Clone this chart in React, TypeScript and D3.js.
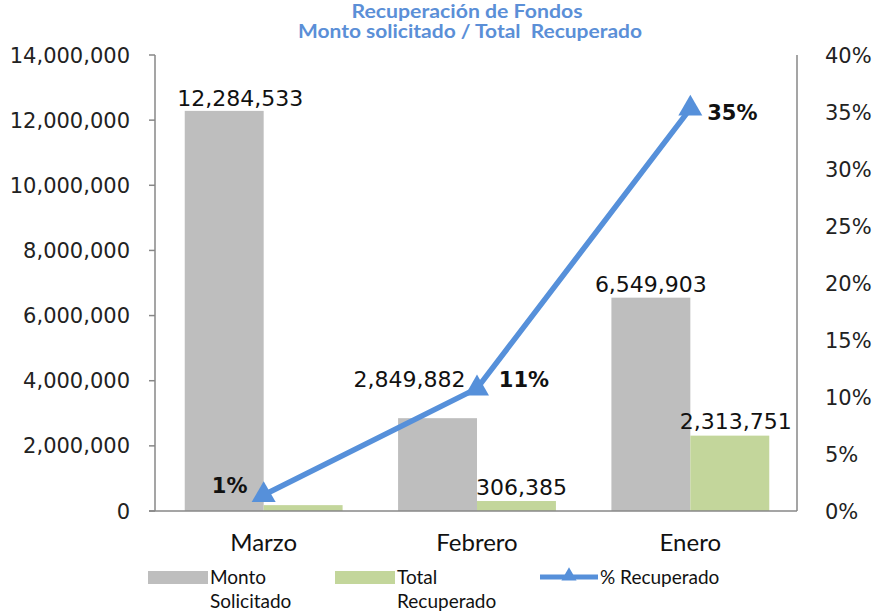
import React from 'react';
import * as d3 from 'd3';

const meses = ['Marzo', 'Febrero', 'Enero'];
const montoSolicitado = [12284533, 2849882, 6549903];
const totalRecuperado = [180000, 306385, 2313751];
const pctRecuperado = [0.014, 0.1075, 0.353];
const pctEtiquetas = ['1%', '11%', '35%'];
const montoTicks = [0, 2000000, 4000000, 6000000, 8000000, 10000000, 12000000, 14000000];
const pctTicks = [0, 0.05, 0.1, 0.15, 0.2, 0.25, 0.3, 0.35, 0.4];

const W = 873;
const H = 612;
const left = 155;
const right = 797;
const top = 55;
const bottom = 511;

const GRIS = '#BEBEBE';
const VERDE = '#C3D69B';
const AZUL = '#5690DA';
const EJE = '#878787';
const numFont = '"DejaVu Sans", Verdana, sans-serif';
const txtFont = 'Lato, "Open Sans", sans-serif';

const App = () => {
  const x = d3.scaleBand().domain(meses).range([left + 2, right]).paddingInner(0.26).paddingOuter(0.13);
  const y = d3.scaleLinear().domain([0, 14000000]).range([bottom, top]);
  const y2 = d3.scaleLinear().domain([0, 0.4]).range([bottom, top]);
  const fmt = d3.format(',d');
  const bw = x.bandwidth() / 2;

  const cx = (m) => (x(m) as number) + bw;
  const line = d3.line<number>()
    .x((_, i) => cx(meses[i]))
    .y(d => y2(d));
  const tri = d3.symbol().type(d3.symbolTriangle).size(250)();

  // desplazamientos de etiquetas respecto al dato
  const montoOff = [[16, -5], [-28, -31], [0, -6]];
  const recupOff = [[0, -6], [5, -6], [6, -7]];
  const pctOff = [[-34, -2], [47, -1], [42, 11]];

  return (
    <svg width={W} height={H} style={{ position: 'absolute', left: 0, top: 0, background: '#fff' }}>
      {/* título */}
      <text x={467} y={18} textAnchor="middle" fontFamily={txtFont} fontWeight="bold" fontSize={18} fill="#5B8FD7"
        textLength={231} lengthAdjust="spacingAndGlyphs">
        Recuperación de Fondos
      </text>
      <text x={470} y={38} textAnchor="middle" fontFamily={txtFont} fontWeight="bold" fontSize={18} fill="#5B8FD7"
        textLength={344} lengthAdjust="spacingAndGlyphs" style={{ whiteSpace: 'pre' }}>
        Monto solicitado / Total  Recuperado
      </text>

      {/* barras */}
      {meses.map((m, i) => (
        <g key={m}>
          <rect x={x(m)} y={y(montoSolicitado[i])} width={bw} height={bottom - y(montoSolicitado[i])} fill={GRIS} />
          <rect x={(x(m) as number) + bw} y={y(totalRecuperado[i])} width={bw} height={bottom - y(totalRecuperado[i])} fill={VERDE} />
        </g>
      ))}

      {/* ejes */}
      <line x1={left} x2={left} y1={top} y2={bottom} stroke={EJE} strokeWidth={1.5} />
      <line x1={right} x2={right} y1={top} y2={bottom} stroke={EJE} strokeWidth={1.5} />
      <line x1={left - 6} x2={right} y1={bottom} y2={bottom} stroke={EJE} strokeWidth={1.5} />
      {montoTicks.map(t => (
        <g key={t}>
          <line x1={left - 6} x2={left} y1={y(t)} y2={y(t)} stroke={EJE} strokeWidth={1.5} />
          <text x={130} y={y(t)} dy="0.36em" textAnchor="end" fontFamily={numFont} fontSize={21} fill="#222">
            {fmt(t)}
          </text>
        </g>
      ))}
      {pctTicks.map(t => (
        <text key={t} x={825} y={y2(t)} dy="0.36em" fontFamily={numFont} fontSize={21} fill="#222">
          {Math.round(t * 100) + '%'}
        </text>
      ))}
      {meses.map(m => (
        <text key={m} x={cx(m)} y={551} textAnchor="middle" fontFamily={txtFont} fontSize={24} fill="#111">
          {m}
        </text>
      ))}

      {/* línea de % recuperado */}
      <path d={line(pctRecuperado) || ''} fill="none" stroke={AZUL} strokeWidth={5.5} />
      {pctRecuperado.map((p, i) => (
        <path key={i} d={tri || ''} transform={`translate(${cx(meses[i])},${y2(p)})`} fill={AZUL} />
      ))}

      {/* etiquetas de datos */}
      {meses.map((m, i) => (
        <g key={'lab' + m}>
          <text
            x={(x(m) as number) + bw / 2 + montoOff[i][0]}
            y={y(montoSolicitado[i]) + montoOff[i][1]}
            textAnchor="middle" fontFamily={numFont} fontSize={22} fill="#111"
          >
            {fmt(montoSolicitado[i])}
          </text>
          {i > 0 && (
            <text
              x={(x(m) as number) + bw * 1.5 + recupOff[i][0]}
              y={y(totalRecuperado[i]) + recupOff[i][1]}
              textAnchor="middle" fontFamily={numFont} fontSize={22} fill="#111"
            >
              {fmt(totalRecuperado[i])}
            </text>
          )}
          <text
            x={cx(m) + pctOff[i][0]}
            y={y2(pctRecuperado[i]) + pctOff[i][1]}
            textAnchor="middle" fontFamily={numFont} fontWeight="bold" fontSize={21} fill="#111"
          >
            {pctEtiquetas[i]}
          </text>
        </g>
      ))}

      {/* leyenda */}
      <rect x={148} y={571} width={60} height={13} fill={GRIS} />
      <text x={210} y={584} fontFamily={txtFont} fontSize={19} fill="#111">Monto</text>
      <text x={210} y={608} fontFamily={txtFont} fontSize={19} fill="#111">Solicitado</text>
      <rect x={335} y={571} width={60} height={13} fill={VERDE} />
      <text x={397} y={584} fontFamily={txtFont} fontSize={19} fill="#111">Total</text>
      <text x={397} y={608} fontFamily={txtFont} fontSize={19} fill="#111">Recuperado</text>
      <line x1={540} x2={598} y1={577} y2={577} stroke={AZUL} strokeWidth={5} />
      <path d={d3.symbol().type(d3.symbolTriangle).size(100)() || ''} transform="translate(569,576)" fill={AZUL} />
      <text x={600} y={584} fontFamily={txtFont} fontSize={19} fill="#111">% Recuperado</text>
    </svg>
  );
};

export default App;
